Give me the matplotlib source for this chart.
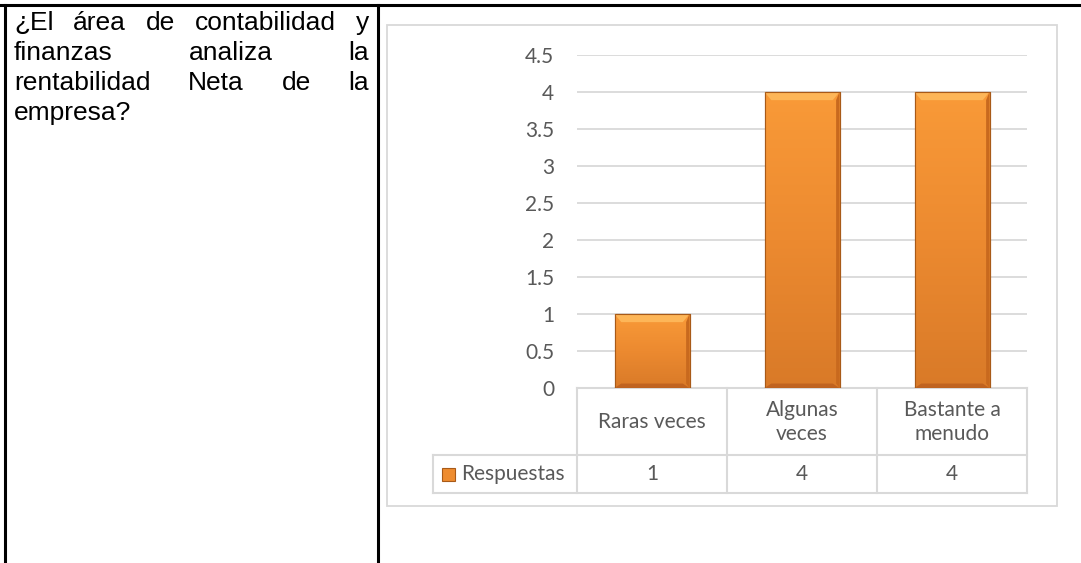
import numpy as np
import matplotlib.pyplot as plt
from matplotlib.colors import LinearSegmentedColormap
from matplotlib.patches import Rectangle, Polygon
from matplotlib.transforms import blended_transform_factory

# data
categories = ['Raras veces', 'Algunas\nveces', 'Bastante a\nmenudo']
respuestas = [1, 4, 4]
series_name = 'Respuestas'
yticks = [0, 0.5, 1, 1.5, 2, 2.5, 3, 3.5, 4, 4.5]
question = [['¿El', 'área', 'de', 'contabilidad', 'y'],
            ['finanzas', 'analiza', 'la'],
            ['rentabilidad', 'Neta', 'de', 'la'],
            ['empresa?']]

W, H = 1081, 563
grey_txt = '#595959'
grid_c = '#D9D9D9'
orange = LinearSegmentedColormap.from_list('og', ['#D97A28', '#EC8A30', '#F99A38'])

fig = plt.figure(figsize=(W / 100, H / 100), dpi=100)

# background axes in pixel coords for the document table
bg = fig.add_axes([0, 0, 1, 1])
bg.set_xlim(0, W)
bg.set_ylim(H, 0)
bg.axis('off')
bg.plot([0, W], [5, 5], color='black', lw=2.2)
bg.plot([5, 5], [5, H], color='black', lw=2.2)
bg.plot([378, 378], [5, H], color='black', lw=2.2)
bg.add_patch(Rectangle((387, 25), 670, 481, fill=False, ec=grid_c, lw=1.3))

# justified question text
fig.canvas.draw()
rend = fig.canvas.get_renderer()
left, right = 14, 369
fs_q = 19
for i, words in enumerate(question):
    y = 30 + i * 30
    widths = []
    for w in words:
        t = bg.text(0, y, w, fontsize=fs_q, family='Liberation Sans')
        widths.append(t.get_window_extent(rend).width)
        t.remove()
    if len(words) > 1 and i < len(question) - 1:
        gap = (right - left - sum(widths)) / (len(words) - 1)
    else:
        gap = 6
    x = left
    for w, wd in zip(words, widths):
        bg.text(x, y, w, fontsize=fs_q, family='Liberation Sans', va='baseline',
                color='black')
        x += wd + gap

# chart
ax = fig.add_axes([577 / W, 1 - 388 / H, 450 / W, 333 / H])
ax.set_facecolor('none')
x = np.arange(len(categories))
bars = ax.bar(x, respuestas, width=0.5, color='#EE8C30', edgecolor='#A85A18',
              lw=0.8, zorder=3)
grad = np.linspace(0, 1, 100).reshape(-1, 1)
for b in bars:
    x0, w, h = b.get_x(), b.get_width(), b.get_height()
    im = ax.imshow(grad, extent=[x0, x0 + w, 0, h], origin='lower', aspect='auto',
                   cmap=orange, zorder=3.2)
    im.set_clip_path(b)
    dx, dy = 0.045, 0.11
    ax.add_patch(Polygon([(x0, h), (x0 + w, h), (x0 + w - dx, h - dy), (x0 + dx, h - dy)],
                         closed=True, fc='#FDB658', ec='none', zorder=3.4))
    ax.add_patch(Polygon([(x0 + w, h), (x0 + w, 0), (x0 + w - dx * 0.5, 0.06), (x0 + w - dx * 0.5, h - dy)],
                         closed=True, fc='#C8691E', ec='none', zorder=3.4))
    ax.add_patch(Polygon([(x0, 0), (x0 + w, 0), (x0 + w - dx, 0.06), (x0 + dx, 0.06)],
                         closed=True, fc='#C06320', ec='none', zorder=3.4))
    ax.add_patch(Rectangle((x0, 0), w, h, fill=False, ec='#A85A18', lw=0.8, zorder=3.5))

ax.set_xlim(-0.5, 2.5)
ax.set_ylim(0, 4.5)
ax.set_yticks(yticks)
ax.set_yticklabels(['%g' % v for v in yticks], family='Lato', fontsize=15, color=grey_txt)
ax.set_xticks([])
ax.tick_params(axis='y', length=0, pad=16.5)
ax.yaxis.grid(True, color=grid_c, lw=1.3)
ax.set_axisbelow(True)
for s in ax.spines.values():
    s.set_visible(False)

# data table under the plot
tr = blended_transform_factory(ax.transData, ax.transAxes)
r1 = -(455 - 388) / 333
r2 = -(493 - 388) / 333
leg_x = -0.5 - 144 / 150
kw = dict(color=grid_c, lw=1.5, transform=tr, clip_on=False)
ax.plot([-0.5, 2.5], [0, 0], **kw)
ax.plot([leg_x, 2.5], [r1, r1], **kw)
ax.plot([leg_x, 2.5], [r2, r2], **kw)
for xb in [-0.5, 0.5, 1.5, 2.5]:
    ax.plot([xb, xb], [0, r2], **kw)
ax.plot([leg_x, leg_x], [r1, r2], **kw)

for i, (c, v) in enumerate(zip(categories, respuestas)):
    ax.text(i, r1 / 2, c, transform=tr, ha='center', va='center', family='Lato',
            fontsize=15, color=grey_txt, linespacing=1.25)
    ax.text(i, (r1 + r2) / 2, str(v), transform=tr, ha='center', va='center',
            family='Lato', fontsize=15, color=grey_txt)

# legend key
mk0 = -0.5 - (577 - 442) / 150
mk_w = 13 / 150
mk_h = 13 / 333
ym = (r1 + r2) / 2
ax.add_patch(Rectangle((mk0, ym - mk_h / 2), mk_w, mk_h, transform=tr, clip_on=False,
                       fc='#EE8C30', ec='#A85A18', lw=0.8))
ax.text(-0.5 - (577 - 461) / 150, ym, series_name, transform=tr, ha='left', va='center',
        family='Lato', fontsize=15, color=grey_txt)

fig.savefig('out.png', dpi=100)
